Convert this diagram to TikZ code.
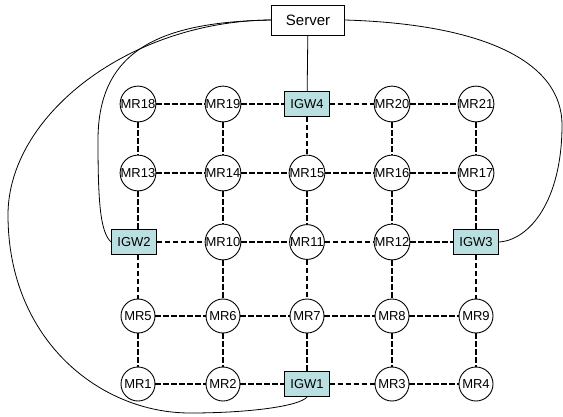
\documentclass[tikz,border=0pt]{standalone}
\usepackage{fontspec}
\setmainfont{Liberation Sans}
\usepackage{tikz}
\usetikzlibrary{positioning}
\definecolor{gwfill}{RGB}{185,223,225}
\tikzstyle{mr}=[draw, circle, line width=0.9pt, minimum size=34pt, inner sep=0pt, font=\fontsize{13}{14}\selectfont]
\tikzstyle{igw}=[draw, rectangle, fill=gwfill, line width=0.9pt, minimum width=45pt, minimum height=25pt, inner sep=0pt, font=\fontsize{13}{14}\selectfont]
\tikzstyle{link}=[line width=1.6pt, dash pattern=on 5.5pt off 2.5pt]
\tikzstyle{wire}=[line width=0.8pt]

\begin{document}
\begin{tikzpicture}[x=1pt, y=-1pt]
	\useasboundingbox (0, 0) rectangle (563, 416);
	\node [draw, rectangle, line width=0.9pt, minimum width=73pt, minimum height=30pt, font=\fontsize{15}{16}\selectfont] (server) at (308, 20) {Server};
	% row 1
	\node [mr] (mr18) at (138, 104) {MR18};
	\node [mr] (mr19) at (223, 104) {MR19};
	\node [igw] (igw4) at (307, 104) {IGW4};
	\node [mr] (mr20) at (392, 104) {MR20};
	\node [mr] (mr21) at (476, 104) {MR21};
	% row 2
	\node [mr] (mr13) at (138, 173) {MR13};
	\node [mr] (mr14) at (223, 173) {MR14};
	\node [mr] (mr15) at (307, 173) {MR15};
	\node [mr] (mr16) at (392, 173) {MR16};
	\node [mr] (mr17) at (476, 173) {MR17};
	% row 3
	\node [igw] (igw2) at (134, 242) {IGW2};
	\node [mr] (mr10) at (223, 242) {MR10};
	\node [mr] (mr11) at (307, 242) {MR11};
	\node [mr] (mr12) at (392, 242) {MR12};
	\node [igw] (igw3) at (476, 242) {IGW3};
	% row 4
	\node [mr] (mr5) at (138, 316) {MR5};
	\node [mr] (mr6) at (223, 316) {MR6};
	\node [mr] (mr7) at (307, 316) {MR7};
	\node [mr] (mr8) at (392, 316) {MR8};
	\node [mr] (mr9) at (476, 316) {MR9};
	% row 5
	\node [mr] (mr1) at (138, 384) {MR1};
	\node [mr] (mr2) at (223, 384) {MR2};
	\node [igw] (igw1) at (307, 384) {IGW1};
	\node [mr] (mr3) at (392, 384) {MR3};
	\node [mr] (mr4) at (476, 384) {MR4};
	% mesh links
	\draw [link] (mr18) to (mr19) (mr19) to (igw4) (igw4) to (mr20) (mr20) to (mr21);
	\draw [link] (mr13) to (mr14) (mr14) to (mr15) (mr15) to (mr16) (mr16) to (mr17);
	\draw [link] (igw2) to (mr10) (mr10) to (mr11) (mr11) to (mr12) (mr12) to (igw3);
	\draw [link] (mr5) to (mr6) (mr6) to (mr7) (mr7) to (mr8) (mr8) to (mr9);
	\draw [link] (mr1) to (mr2) (mr2) to (igw1) (igw1) to (mr3) (mr3) to (mr4);
	\draw [link] (mr18) to (mr13) (mr13) to (mr13 |- igw2.north) (mr5 |- igw2.south) to (mr5) (mr5) to (mr1);
	\draw [link] (mr19) to (mr14) (mr14) to (mr10) (mr10) to (mr6) (mr6) to (mr2);
	\draw [link] (igw4) to (mr15) (mr15) to (mr11) (mr11) to (mr7) (mr7) to (igw1);
	\draw [link] (mr20) to (mr16) (mr16) to (mr12) (mr12) to (mr8) (mr8) to (mr3);
	\draw [link] (mr21) to (mr17) (mr17) to (igw3) (igw3) to (mr9) (mr9) to (mr4);
	% server wires
	\draw [wire] (server) to (igw4);
	\draw [wire] (server.west) .. controls (160, 22) and (98, 50) .. (98, 140) .. controls (98, 200) and (100, 232) .. (igw2.west);
	\draw [wire] (server.west) .. controls (130, 21) and (8, 115) .. (8, 215) .. controls (8, 340) and (100, 413) .. (190, 413) .. controls (250, 413) and (300, 406) .. (igw1.south);
	\draw [wire] (server.east) .. controls (480, 24) and (562, 60) .. (562, 125) .. controls (562, 200) and (530, 240) .. (igw3.east);
\end{tikzpicture}
\end{document}
